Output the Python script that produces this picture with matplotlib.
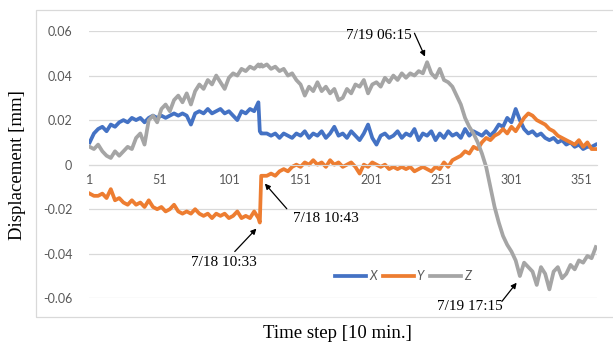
import matplotlib.pyplot as plt
from matplotlib.patches import Rectangle

# time step index (category axis), 10 min per step
step = list(range(1, 122, 3)) + [122, 123] + list(range(124, 362, 3))

disp_x = [0.010, 0.014, 0.016, 0.017, 0.015, 0.018, 0.017, 0.019, 0.020, 0.019,
          0.021, 0.020, 0.021, 0.019, 0.021, 0.022, 0.021, 0.022, 0.021, 0.022,
          0.023, 0.022, 0.023, 0.022, 0.018, 0.023, 0.024, 0.023, 0.025, 0.023,
          0.024, 0.025, 0.023, 0.024, 0.022, 0.020, 0.024, 0.023, 0.025, 0.024,
          0.028, 0.015, 0.014,
          0.014, 0.014, 0.013, 0.014, 0.012, 0.014, 0.013, 0.012, 0.014, 0.013,
          0.015, 0.012, 0.014, 0.013, 0.015, 0.012, 0.014, 0.017, 0.013, 0.014,
          0.012, 0.015, 0.013, 0.011, 0.014, 0.018, 0.012, 0.009, 0.013, 0.014,
          0.012, 0.013, 0.015, 0.012, 0.014, 0.013, 0.016, 0.011, 0.014, 0.013,
          0.015, 0.011, 0.014, 0.012, 0.015, 0.013, 0.014, 0.012, 0.016, 0.013,
          0.015, 0.014, 0.013, 0.015, 0.013, 0.015, 0.018, 0.017, 0.021, 0.019,
          0.025, 0.020, 0.016, 0.014, 0.015, 0.013, 0.014, 0.012, 0.011, 0.012,
          0.010, 0.011, 0.009, 0.010, 0.008, 0.009, 0.007, 0.008, 0.008, 0.009]

disp_y = [-0.013, -0.014, -0.014, -0.013, -0.015, -0.011, -0.016, -0.015, -0.017, -0.018,
          -0.016, -0.018, -0.017, -0.019, -0.016, -0.019, -0.020, -0.019, -0.021, -0.020,
          -0.018, -0.021, -0.022, -0.021, -0.022, -0.020, -0.022, -0.023, -0.022, -0.024,
          -0.022, -0.023, -0.022, -0.024, -0.023, -0.021, -0.024, -0.023, -0.024, -0.021,
          -0.024, -0.026, -0.005,
          -0.005, -0.005, -0.004, -0.005, -0.003, -0.002, -0.003, -0.001, 0.000, -0.001,
          0.001, 0.000, 0.002, 0.000, 0.001, -0.001, 0.002, 0.000, 0.001, -0.001,
          0.000, 0.001, -0.001, -0.004, 0.000, -0.001, 0.001, 0.000, -0.001, 0.000,
          -0.002, -0.001, -0.002, -0.001, -0.002, -0.001, -0.003, -0.002, -0.001, -0.002,
          -0.003, -0.001, -0.002, 0.001, -0.001, 0.002, 0.003, 0.004, 0.006, 0.005,
          0.008, 0.007, 0.010, 0.012, 0.011, 0.013, 0.014, 0.016, 0.014, 0.017,
          0.015, 0.018, 0.021, 0.023, 0.022, 0.020, 0.019, 0.018, 0.016, 0.015,
          0.013, 0.012, 0.011, 0.010, 0.009, 0.011, 0.008, 0.010, 0.007, 0.007]

disp_z = [0.008, 0.007, 0.009, 0.006, 0.004, 0.003, 0.006, 0.004, 0.006, 0.008,
          0.007, 0.012, 0.014, 0.009, 0.020, 0.022, 0.019, 0.025, 0.027, 0.024,
          0.029, 0.031, 0.028, 0.032, 0.027, 0.033, 0.036, 0.034, 0.038, 0.036,
          0.040, 0.037, 0.034, 0.039, 0.041, 0.040, 0.043, 0.042, 0.044, 0.043,
          0.045, 0.044, 0.045,
          0.044, 0.045, 0.043, 0.044, 0.042, 0.043, 0.040, 0.041, 0.038, 0.036,
          0.031, 0.035, 0.033, 0.037, 0.033, 0.035, 0.032, 0.034, 0.029, 0.030,
          0.034, 0.032, 0.036, 0.035, 0.038, 0.032, 0.036, 0.037, 0.035, 0.039,
          0.037, 0.040, 0.038, 0.041, 0.039, 0.041, 0.040, 0.042, 0.041, 0.046,
          0.041, 0.039, 0.043, 0.038, 0.037, 0.035, 0.031, 0.027, 0.021, 0.017,
          0.014, 0.010, 0.005, -0.001, -0.010, -0.019, -0.026, -0.032, -0.036, -0.039,
          -0.043, -0.050, -0.044, -0.046, -0.048, -0.054, -0.046, -0.049, -0.056, -0.048,
          -0.046, -0.051, -0.049, -0.045, -0.047, -0.043, -0.044, -0.041, -0.042, -0.037]

xticks = [1, 51, 101, 151, 201, 251, 301, 351]
yticks = [-0.06, -0.04, -0.02, 0, 0.02, 0.04, 0.06]
ylabels = ['-0.06', '-0.04', '-0.02', '0', '0.02', '0.04', '0.06']

# annotations: text, point, text position, arrow tail
notes = [('7/19 06:15', (239.5, 0.0485), (207, 0.0579), (232, 0.0590)),
         ('7/18 10:33', (119.6, -0.0287), (96.5, -0.0440), (104.2, -0.0390)),
         ('7/18 10:43', (125.6, -0.0085), (169, -0.0242), (141.2, -0.0198)),
         ('7/19 17:15', (304.7, -0.0530), (271.5, -0.0638), (294.2, -0.0614))]

plt.rcParams['axes.unicode_minus'] = False
grey = '#595959'

fig = plt.figure(figsize=(6.13, 3.45), dpi=100)
ax = fig.add_axes([89/613, 1-298.3/345, (596.5-89)/613, (298.3-31)/345])

ax.plot(step, disp_x, color='#4472C4', lw=2.7, label='X', solid_joinstyle='round')
ax.plot(step, disp_y, color='#ED7D31', lw=2.7, label='Y', solid_joinstyle='round')
ax.plot(step, disp_z, color='#A5A5A5', lw=2.7, label='Z', solid_joinstyle='round')

ax.set_xlim(0.5, 361.5)
ax.set_ylim(-0.06, 0.06)
ax.set_yticks(yticks)
ax.set_yticklabels(ylabels)
ax.set_xticks(xticks)
ax.grid(axis='y', color='#D9D9D9', lw=0.9)
ax.set_axisbelow(True)
for s in ['top', 'right', 'left']:
    ax.spines[s].set_visible(False)
ax.spines['bottom'].set_position(('data', 0))
ax.spines['bottom'].set_color('#D9D9D9')
ax.tick_params(axis='both', length=0, labelcolor=grey, labelsize=9)
ax.tick_params(axis='y', pad=12)
ax.tick_params(axis='x', pad=7)
for lab in ax.get_xticklabels() + ax.get_yticklabels():
    lab.set_family('Lato')

for txt, xy, xyt, tail in notes:
    ax.text(xyt[0], xyt[1], txt, ha='center', va='center', fontsize=11,
            family='Liberation Serif', clip_on=False)
    ax.annotate('', xy=xy, xytext=tail, annotation_clip=False,
                arrowprops=dict(arrowstyle='-|>', color='black', lw=0.9,
                                mutation_scale=8, shrinkA=0, shrinkB=0))

leg = ax.legend(loc='center', bbox_to_anchor=(403/613, 1-276/345),
                bbox_transform=fig.transFigure, ncol=3, frameon=False,
                handlelength=2.5, columnspacing=0.5, handletextpad=0.2,
                prop={'family': 'Lato', 'style': 'italic', 'size': 9})
for t in leg.get_texts():
    t.set_color(grey)

fig.text(18/613, 1-165/345, 'Displacement [mm]', rotation=90, ha='center', va='center',
         fontsize=13.5, family='Liberation Serif')
fig.text(337/613, 1-333/345, 'Time step [10 min.]', ha='center', va='center',
         fontsize=13.5, family='Liberation Serif')

fig.patches.append(Rectangle((36/613, 1-317/345), 0.99, 307/345, transform=fig.transFigure,
                             fill=False, edgecolor='#D9D9D9', lw=0.9))

fig.savefig('out.png', dpi=100)
